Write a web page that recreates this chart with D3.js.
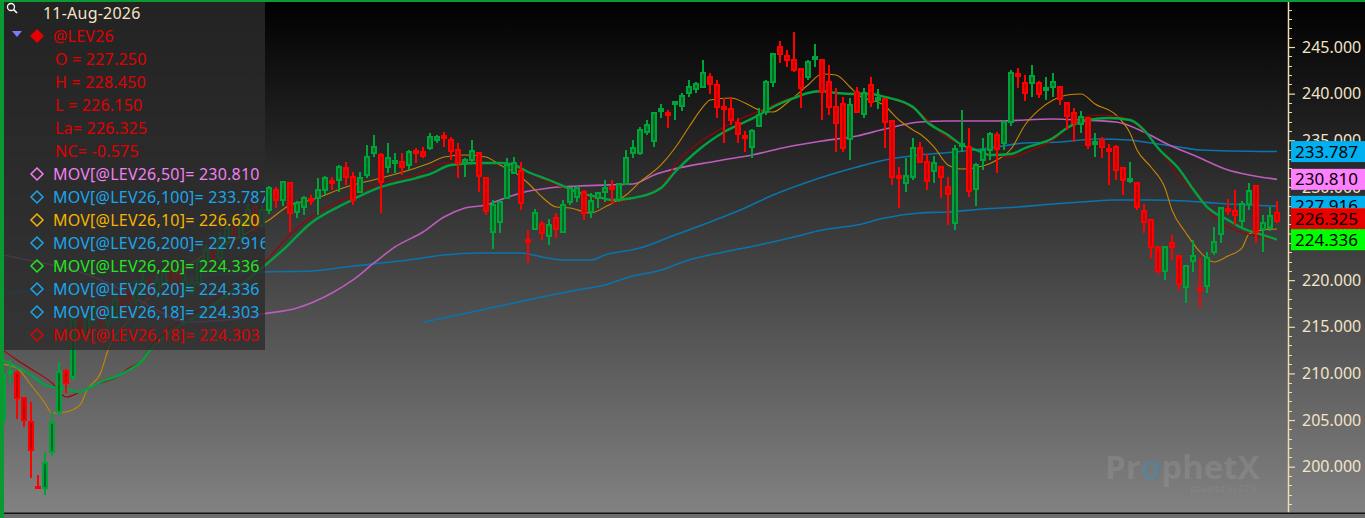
<!DOCTYPE html>
<html><head><meta charset="utf-8">
<script src="https://cdn.jsdelivr.net/npm/d3@7"></script>
<style>html,body{margin:0;padding:0;background:#000;overflow:hidden}svg{display:block}</style>
</head><body><svg id="c" width="1365" height="518"></svg>
<script>
// ---------- DATA ----------
const open = [
205.01,210.05,210.05,207.36,204.80,197.82,197.72,201.58,205.86,210.26,
209.62,215.51,214.12,215.94,217.02,215.51,215.94,217.87,218.73,217.87,
218.95,220.02,218.73,219.70,220.88,220.56,218.95,218.73,219.70,221.95,
223.24,222.38,224.09,225.59,224.52,226.02,227.85,225.92,227.52,229.67,
228.60,230.42,227.31,227.85,228.70,228.81,229.67,230.63,230.74,232.03,
231.06,229.45,231.28,233.64,233.42,232.13,232.56,232.67,232.35,233.85,
233.74,234.17,235.03,235.46,235.03,233.96,232.56,232.88,233.64,230.95,
225.16,226.24,228.81,231.49,231.71,224.31,225.49,226.02,224.74,226.67,
225.16,228.38,228.92,229.45,227.31,228.81,229.45,229.99,228.60,230.31,
233.64,233.64,235.89,234.92,238.14,237.92,238.89,238.67,240.07,240.50,
240.71,241.78,240.93,238.57,238.35,236.85,235.46,234.28,236.53,238.03,
241.25,245.00,244.04,243.61,242.64,241.78,243.71,243.61,241.25,238.57,
238.89,235.14,240.18,237.82,240.93,239.32,239.43,237.07,231.17,230.42,
231.06,234.17,232.67,231.71,232.13,229.99,226.13,234.39,234.28,229.77,
232.88,233.96,235.57,234.71,236.96,242.11,241.14,241.14,241.14,240.39,
240.71,240.71,239.00,237.92,236.74,237.39,234.60,235.03,234.06,234.28,
232.03,230.63,230.42,227.42,226.45,223.56,220.98,223.99,222.59,219.27,
222.06,219.16,219.37,223.02,224.95,227.63,227.42,226.34,228.17,230.10,
225.49,225.59,227.25];
const high = [
211.23,211.44,210.26,207.47,206.94,199.11,201.58,205.86,211.23,210.48,
216.59,216.27,216.80,217.87,217.55,217.34,218.73,218.41,219.48,220.02,
220.88,220.45,220.56,221.63,221.31,221.09,220.66,220.23,222.38,223.77,
223.66,225.16,226.24,226.02,226.88,228.17,228.27,228.06,230.10,229.99,
230.63,230.53,228.49,229.02,229.13,230.95,231.17,231.06,232.35,232.67,
231.60,231.60,234.49,235.57,233.64,234.71,233.64,233.64,233.96,234.17,
234.28,235.78,235.57,235.89,235.35,234.71,233.10,235.03,233.74,231.06,
228.60,228.60,233.10,233.21,232.67,225.38,227.63,226.34,226.56,227.20,
228.60,229.99,230.10,229.67,229.35,229.45,230.74,230.74,230.42,233.96,
235.03,236.42,237.17,238.03,238.89,238.25,239.21,240.07,241.46,241.25,
243.61,242.21,241.46,239.53,239.64,237.39,235.99,236.21,238.46,241.46,
244.36,245.64,244.68,246.61,242.75,243.61,245.32,243.61,243.07,240.60,
239.64,239.53,240.71,240.60,241.78,240.50,239.53,237.17,232.13,233.10,
235.24,234.81,233.53,233.31,232.24,231.06,234.49,238.25,236.32,232.56,
235.24,235.89,235.89,237.17,242.53,242.75,242.00,243.07,241.35,241.78,
242.21,240.82,239.10,238.46,238.14,237.49,235.78,235.35,234.60,234.49,
232.13,232.67,230.53,228.17,226.56,223.66,223.66,224.84,222.70,221.63,
224.31,222.38,223.02,225.70,227.85,228.70,229.67,228.49,230.42,230.20,
226.99,227.85,228.45];
const low = [
204.47,208.98,205.12,204.26,198.79,197.61,196.97,201.15,205.54,207.90,
209.30,213.59,213.80,215.51,214.87,214.66,215.51,215.94,217.34,217.45,
218.41,218.09,218.30,219.16,219.48,218.73,218.52,218.30,219.27,221.52,
221.73,221.95,223.66,223.88,224.09,225.59,225.16,225.59,227.09,227.74,
227.95,225.16,226.67,226.99,228.06,226.99,229.13,229.67,229.45,230.20,
228.06,229.35,230.95,233.21,227.20,231.49,231.49,231.28,231.81,232.56,
233.10,233.96,234.71,234.28,232.88,230.95,231.06,232.67,229.45,226.99,
223.34,225.06,228.70,231.38,227.52,221.84,225.38,224.31,223.77,224.52,
225.16,228.06,228.38,226.45,226.67,227.74,228.38,228.27,228.38,230.20,
233.10,233.42,235.57,234.28,237.39,236.32,237.17,238.14,239.64,240.07,
240.60,239.96,237.39,234.71,236.64,234.71,233.74,233.10,236.42,237.71,
240.71,243.29,242.86,242.32,238.46,241.46,242.86,237.17,237.71,233.74,
233.74,232.88,237.92,237.39,238.57,238.35,234.17,230.20,227.74,229.45,
230.74,232.56,229.67,230.42,228.81,225.92,225.38,233.74,228.92,227.95,
231.81,232.88,231.49,233.96,236.53,240.60,239.21,239.64,239.53,239.32,
239.64,238.78,236.10,234.81,235.78,234.06,233.21,233.10,230.20,230.74,
229.13,230.42,227.52,225.06,222.38,220.66,220.02,222.16,218.95,217.55,
220.88,217.12,218.63,222.70,223.99,226.99,225.92,225.59,227.52,223.99,
223.02,225.27,226.15];
const close = [
209.83,210.26,207.36,205.01,201.79,197.72,200.40,204.69,210.16,208.98,
215.73,214.12,215.94,217.02,215.51,216.27,217.87,216.80,217.87,219.16,
220.02,218.63,219.80,220.88,220.02,219.27,220.02,219.70,221.95,223.24,
222.38,224.31,225.59,224.52,226.24,227.52,225.70,227.52,229.88,228.60,
230.53,227.20,228.27,228.81,228.49,229.67,230.95,230.42,232.13,231.06,
228.60,230.95,233.21,234.28,230.53,233.10,232.78,232.13,233.74,233.64,
233.31,235.35,235.35,235.24,233.85,232.56,232.88,233.85,231.17,227.42,
228.06,228.38,232.35,232.56,228.27,224.09,227.20,225.06,225.92,225.49,
228.06,229.88,229.88,227.20,228.49,229.35,229.88,229.77,230.31,233.10,
234.17,236.10,236.64,237.92,238.35,237.71,239.10,239.75,240.71,241.03,
242.21,241.03,238.57,238.35,237.17,235.67,235.24,235.99,237.71,241.25,
244.25,244.25,243.61,242.53,240.60,243.39,243.93,240.18,238.57,236.85,
234.17,238.78,238.03,240.07,239.10,239.53,236.96,231.06,230.95,231.17,
234.17,232.67,230.63,232.56,231.06,229.24,234.06,234.60,229.56,232.35,
233.96,235.67,234.06,236.96,242.21,241.89,240.07,241.89,239.96,240.60,
241.25,239.43,237.60,236.85,237.49,234.49,234.81,234.28,233.85,231.81,
230.74,230.85,227.85,226.24,223.56,220.98,223.56,223.56,219.59,221.52,
222.59,218.95,222.38,224.09,227.74,227.42,226.99,228.17,229.56,225.16,
226.13,226.90,226.325];

// moving averages: [bar index, value]
const ma50 = [[0,222.70],[5,221.95],[11,220.88],[17,218.95],[22,216.80],[26,215.51],[32,215.73],[37,216.37],[42,217.02],[47,218.63],[50,220.02],[53,221.84],[56,223.56],[60,225.16],[63,226.77],[66,227.74],[69,228.06],[71,228.60],[74,229.35],[78,229.88],[82,230.10],[90,230.31],[93,231.28],[102,232.78],[107,233.42],[112,234.28],[117,234.92],[122,235.46],[126,236.21],[131,236.96],[135,237.07],[142,237.07],[150,237.28],[154,237.17],[159,236.96],[163,235.89],[166,234.71],[171,233.10],[175,231.81],[178,231.28],[182,230.81]];
const ma100 = [[0,218.63],[11,219.16],[22,220.02],[37,220.88],[44,220.98],[49,221.41],[54,221.84],[59,222.27],[63,222.70],[68,222.91],[74,222.91],[77,222.48],[80,222.16],[84,222.16],[86,222.70],[91,223.45],[96,224.84],[101,226.24],[106,227.74],[110,229.13],[115,230.53],[122,232.13],[126,232.88],[131,233.42],[136,233.74],[141,234.17],[146,234.71],[151,234.81],[156,235.14],[161,235.03],[163,234.81],[168,234.28],[171,233.96],[182,233.79]];
const ma200 = [[60,215.51],[65,216.27],[71,217.23],[77,218.20],[82,218.95],[86,219.48],[89,220.23],[94,221.09],[98,222.16],[103,223.02],[108,223.77],[113,224.63],[117,225.38],[122,225.92],[126,226.67],[131,227.20],[135,227.31],[140,227.63],[145,227.85],[150,228.17],[154,228.38],[159,228.60],[164,228.60],[169,228.49],[173,228.27],[178,228.06],[182,227.92]];
const ma10 = [[0,211.00],[2,210.58],[4,208.76],[6,206.83],[7,205.76],[9,205.87],[11,206.62],[12,208.22],[14,210.16],[15,212.51],[18,215.73],[22,218.95],[28,222.38],[33,224.31],[38,226.45],[41,228.06],[44,228.60],[49,229.99],[54,230.95],[59,232.03],[61,232.56],[63,233.21],[66,233.42],[69,233.21],[71,232.35],[73,231.60],[75,230.42],[77,228.92],[79,227.85],[81,227.74],[84,227.20],[86,227.85],[89,229.13],[91,230.53],[94,232.35],[96,234.17],[98,236.42],[100,238.57],[101,239.32],[104,239.53],[106,239.00],[108,238.25],[110,238.03],[112,239.00],[115,240.93],[117,242.11],[119,242.00],[121,240.71],[122,239.96],[126,238.67],[128,237.17],[130,236.10],[131,235.67],[133,234.28],[135,232.35],[137,231.92],[140,232.24],[142,232.88],[144,234.06],[146,236.64],[148,238.25],[150,239.32],[152,239.85],[154,239.96],[156,238.89],[159,237.71],[161,235.78],[162,233.96],[164,232.13],[166,229.88],[167,227.52],[169,225.06],[171,223.02],[173,221.95],[175,222.59],[177,223.45],[178,224.95],[180,225.38],[182,225.49]];
const ma20 = [[0,211.44],[2,210.69],[4,209.83],[6,208.76],[8,208.44],[9,208.33],[11,208.01],[12,208.33],[14,209.08],[16,209.62],[18,210.37],[20,211.44],[21,212.51],[23,213.91],[28,216.27],[33,218.95],[38,221.95],[40,223.24],[44,226.13],[49,228.27],[54,229.99],[59,230.95],[61,231.38],[64,232.35],[68,232.56],[71,232.56],[73,232.35],[75,231.60],[78,230.74],[80,230.10],[82,229.45],[85,228.92],[87,228.60],[90,228.81],[94,229.88],[96,231.60],[99,233.74],[103,235.89],[106,236.96],[108,237.71],[110,238.57],[113,239.53],[115,240.07],[117,240.28],[119,240.07],[122,239.96],[124,239.96],[126,239.64],[130,238.57],[132,236.96],[135,235.57],[137,234.49],[139,233.96],[141,233.42],[144,233.53],[146,234.17],[150,235.24],[152,236.32],[155,237.17],[158,237.39],[161,237.17],[163,236.10],[165,234.17],[168,231.92],[170,229.77],[172,227.85],[175,226.45],[177,225.59],[180,224.84],[182,224.34]];
const ma18 = [[0,212.51],[2,211.44],[4,210.48],[7,208.98],[9,207.47],[11,208.01],[14,208.98],[16,209.51],[18,210.58],[20,211.44],[21,212.73],[23,214.34],[28,216.80],[33,219.48],[38,222.38],[40,224.09],[44,226.77],[49,228.81],[54,230.42],[59,231.28],[63,232.56],[68,232.67],[73,232.13],[78,230.53],[81,229.67],[85,228.60],[87,228.27],[90,228.81],[94,229.99],[96,232.35],[99,234.49],[103,236.42],[108,238.14],[113,239.64],[116,240.18],[122,239.96],[126,239.64],[131,237.92],[134,235.78],[137,234.49],[140,233.74],[144,233.21],[147,233.96],[150,235.03],[153,236.85],[156,237.71],[159,237.60],[162,236.64],[165,234.28],[168,231.06],[171,228.92],[173,226.77],[176,225.38],[179,224.74],[182,224.30]];

const yTicks = [200,205,210,215,220,225,230,235,240,245];
const legendDate = "11-Aug-2026";
const legendSymbol = "@LEV26";
const quoteRows = ["O = 227.250","H = 228.450","L = 226.150","La= 226.325","NC= -0.575"];
const studyNames = ["MOV[@LEV26,50]","MOV[@LEV26,100]","MOV[@LEV26,10]","MOV[@LEV26,200]","MOV[@LEV26,20]","MOV[@LEV26,20]","MOV[@LEV26,18]","MOV[@LEV26,18]"];
const studyValues = [230.810,233.787,226.620,227.916,224.336,224.336,224.303,224.303];
const lastLabelValues = [233.787,230.810,227.916,226.620,226.325,224.336];

// ---------- STYLE ----------
const studyColors = ["#f080f0","#1aa6ea","#f5b400","#1aa6ea","#22e622","#1aa6ea","#1aa6ea","#e00000"];
const boxColors = ["#00b0f0","#ff80ff","#00b0f0","#ffa500","#e60000","#00ff00"];
const FONT = "'Noto Sans', 'Open Sans', sans-serif";

const W = 1365, H = 518, plotRight = 1288, plotBottom = 512;
const N = close.length;
const svg = d3.select("#c");
const defs = svg.append("defs");
const grad = defs.append("linearGradient").attr("id","bg").attr("x1",0).attr("y1",0).attr("x2",0).attr("y2",1);
grad.append("stop").attr("offset","0%").attr("stop-color","#000");
grad.append("stop").attr("offset","100%").attr("stop-color","#838383");
defs.append("clipPath").attr("id","plot").append("rect").attr("x",0).attr("y",0).attr("width",plotRight).attr("height",plotBottom);
defs.append("clipPath").attr("id","legclip").append("rect").attr("x",4).attr("y",0).attr("width",261).attr("height",350);

svg.append("rect").attr("width",W).attr("height",H).attr("fill","url(#bg)");

const x = d3.scaleLinear().domain([0, N-1]).range([3, 1277]);
const y = d3.scaleLinear().domain([195.14, 250.04]).range([plotBottom, 0]);

const plot = svg.append("g").attr("clip-path","url(#plot)");
const line = d3.line().x(d=>x(d[0])).y(d=>y(d[1])).curve(d3.curveMonotoneX);

function drawLine(data, color, width, dash){
  const p = plot.append("path").attr("d", line(data)).attr("fill","none")
    .attr("stroke", color).attr("stroke-width", width).attr("stroke-linejoin","round");
  if (dash) p.attr("stroke-dasharray", dash);
  return p;
}
drawLine(ma200, "#0a74ac", 1.6);
drawLine(ma100, "#0a74ac", 1.6);
drawLine(ma50, "#bd5cbd", 1.6);
drawLine(ma10, "#c88600", 1.1);
drawLine(ma18, "#a30000", 1.1);
drawLine(ma20, "#00a81e", 2.4);
drawLine(ma20, "#0a8fa8", 1.2, "1.5,1.5");

// candles
const idx = d3.range(N);
const cg = plot.append("g").attr("shape-rendering","crispEdges");
const up = i => close[i] >= open[i];
cg.selectAll("line.w").data(idx).join("line").attr("class","w")
  .attr("x1", i=>Math.round(x(i))).attr("x2", i=>Math.round(x(i)))
  .attr("y1", i=>y(high[i])).attr("y2", i=>y(low[i]))
  .attr("stroke", i=>up(i) ? "#00a23a" : "#ff0000").attr("stroke-width",2);
cg.selectAll("rect.b").data(idx).join("rect").attr("class","b")
  .attr("x", i=>Math.round(x(i))-2).attr("width",4)
  .attr("y", i=>y(Math.max(open[i],close[i])))
  .attr("height", i=>Math.max(Math.abs(y(open[i])-y(close[i])), 0.5))
  .attr("fill", i=>up(i) ? "#006a22" : "#c40000")
  .attr("stroke", i=>up(i) ? "#00a23a" : "#ff0000").attr("stroke-width",2);

// watermark
const wm = svg.append("text").attr("x",1105).attr("y",479).attr("font-family","'Open Sans', sans-serif")
  .attr("font-weight","bold").attr("font-size",33).attr("fill","rgba(255,255,255,0.10)");
wm.append("tspan").text("Pr");
wm.append("tspan").attr("fill","rgba(40,150,210,0.30)").text("o");
wm.append("tspan").text("phetX");
svg.append("text").attr("x",1256).attr("y",492).attr("text-anchor","end").attr("font-family",FONT)
  .attr("font-size",8.5).attr("fill","rgba(255,255,255,0.08)").text("powered by DTN");

// axis
const axisG = svg.append("g").attr("transform",`translate(${plotRight},0)`);
axisG.call(d3.axisRight(y).tickValues(yTicks).tickSize(7).tickSizeOuter(0).tickPadding(7).tickFormat(d3.format(".3f")));
axisG.select(".domain").attr("stroke","#f0dcb0").attr("stroke-width",1.5);
axisG.selectAll(".tick line").attr("stroke","#f0dcb0").attr("stroke-width",1.2);
axisG.selectAll(".tick text").attr("fill","#f3e4c6").attr("font-family",FONT).attr("font-size",16);
axisG.selectAll("line.minor").data(d3.range(196, 251).filter(v=>v%5!==0)).join("line").attr("class","minor")
  .attr("x1",0).attr("x2",4).attr("y1",d=>Math.round(y(d))+0.5).attr("y2",d=>Math.round(y(d))+0.5)
  .attr("stroke","#f0dcb0").attr("stroke-width",1);

// last-value boxes
const bh = 21;
const boxes = lastLabelValues.map((v,k)=>({v, color:boxColors[k], top:y(v)-bh/2}));
boxes[4].top = Math.min(boxes[4].top, boxes[5].top - bh);
const bg = svg.append("g");
boxes.forEach(b=>{
  bg.append("rect").attr("x",1291).attr("y",b.top).attr("width",W-1291).attr("height",bh).attr("fill",b.color);
  bg.append("text").attr("x",1295).attr("y",b.top+bh/2+6).attr("font-family",FONT).attr("font-size",17)
    .attr("fill","#000").text(d3.format(".3f")(b.v));
});

// legend
const lg = svg.append("g").attr("clip-path","url(#legclip)");
lg.append("rect").attr("x",4).attr("y",0).attr("width",261).attr("height",350).attr("fill","rgba(44,44,44,0.8)");
const rowY = k => 13 + 23*k;
const LFS = 16, LLS = 0.22;
lg.append("circle").attr("cx",11).attr("cy",7).attr("r",3.5).attr("fill","none").attr("stroke","#fff").attr("stroke-width",1.3);
lg.append("line").attr("x1",13.5).attr("y1",9.5).attr("x2",17).attr("y2",13).attr("stroke","#fff").attr("stroke-width",1.6);
lg.append("text").attr("x",43).attr("y",rowY(0)+6).attr("font-family",FONT).attr("font-size",LFS).attr("letter-spacing",LLS).attr("fill","#f3e4c6").text(legendDate);
lg.append("path").attr("d","M12,31L22,31L17,37Z").attr("fill","#7b7bff");
lg.append("path").attr("d","M37,29L44,36L37,43L30,36Z").attr("fill","#e60000");
lg.append("text").attr("x",53).attr("y",rowY(1)+6).attr("font-family",FONT).attr("font-size",LFS).attr("letter-spacing",LLS).attr("fill","#e00000").text(legendSymbol);
quoteRows.forEach((t,k)=>{
  lg.append("text").attr("x",55).attr("y",rowY(2+k)+6).attr("font-family",FONT).attr("font-size",LFS).attr("letter-spacing",LLS).attr("fill","#e00000").text(t);
});
studyNames.forEach((nm,k)=>{
  const cy = rowY(7+k), c = studyColors[k];
  lg.append("path").attr("d",`M37,${cy-6}L43,${cy}L37,${cy+6}L31,${cy}Z`).attr("fill","none").attr("stroke",c).attr("stroke-width",1.5);
  lg.append("text").attr("x",53).attr("y",cy+6).attr("font-family",FONT).attr("font-size",LFS).attr("letter-spacing",LLS).attr("fill",c)
    .text(nm + "= " + d3.format(".3f")(studyValues[k]));
});

// frame
svg.append("rect").attr("x",0).attr("y",512.5).attr("width",W).attr("height",1.5).attr("fill","#141414");
svg.append("rect").attr("x",0).attr("y",514).attr("width",W).attr("height",4).attr("fill","#6d6d6d");
svg.append("rect").attr("x",0).attr("y",0).attr("width",W).attr("height",2).attr("fill","#0a9a32");
svg.append("rect").attr("x",0).attr("y",0).attr("width",4).attr("height",H).attr("fill","#0a9a32");
</script>
</body></html>
